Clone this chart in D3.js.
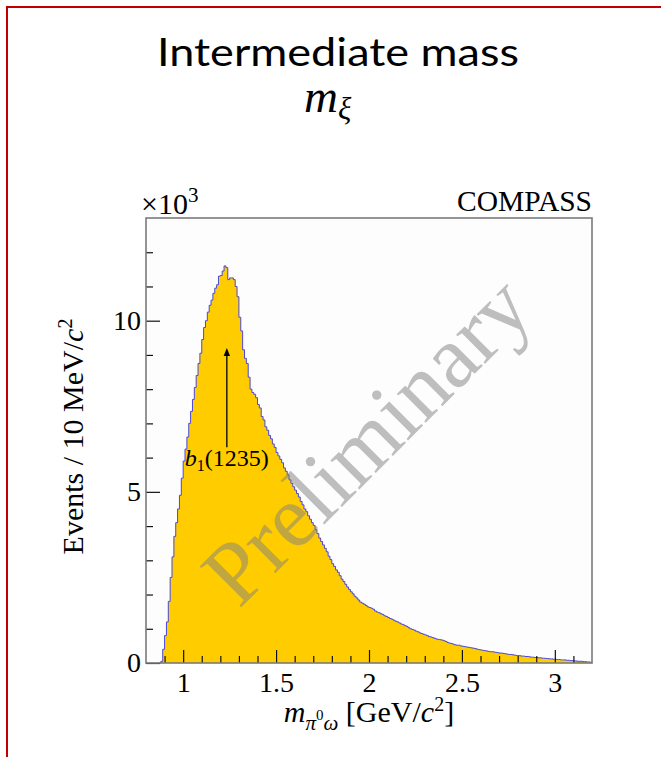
<!DOCTYPE html>
<html>
<head>
<meta charset="utf-8">
<script src="https://cdn.jsdelivr.net/npm/d3@7"></script>
<style>
  html, body { margin: 0; padding: 0; background: #ffffff; }
  svg { display: block; }
  .serif { font-family: "Liberation Serif", "Times New Roman", serif; }
</style>
</head>
<body>
<svg id="chart" width="661" height="757"></svg>
<script>
// pi0-omega invariant mass spectrum, 10 MeV/c^2 bins, counts in units of 10^3
const binStart = 0.87;
const binWidth = 0.01;
const counts = [
  0.00, 0.05, 0.40, 0.80, 1.20, 1.80, 2.50, 3.10, 3.70, 4.10,   // 0.87 - 0.96
  4.50, 4.90, 5.40, 5.90, 6.25, 6.60, 7.00, 7.35, 7.70, 8.05,   // 0.97 - 1.06
  8.40, 8.75, 9.05, 9.45, 9.80, 10.00, 10.25, 10.45, 10.60, 10.80, // 1.07 - 1.16
  10.95, 11.05, 11.30, 11.32, 11.45, 11.60, 11.55, 11.20, 11.25, 11.25, // 1.17 - 1.26
  11.20, 11.00, 10.70, 10.10, 9.70, 9.15, 8.90, 8.75, 8.35, 8.00, // 1.27 - 1.36
  7.90, 7.85, 7.75, 7.55, 7.45, 7.20, 7.10, 6.90, 6.80, 6.65,   // 1.37 - 1.46
  6.55, 6.40, 6.30, 6.15, 6.05, 5.95, 5.85, 5.70, 5.60, 5.50,   // 1.47 - 1.56
  5.35, 5.25, 5.15, 5.05, 4.95, 4.85, 4.72, 4.62, 4.50, 4.42,   // 1.57 - 1.66
  4.30, 4.20, 4.10, 4.02, 3.90, 3.78, 3.65, 3.55, 3.45, 3.35,   // 1.67 - 1.76
  3.25, 3.12, 3.02, 2.90, 2.82, 2.72, 2.65, 2.55, 2.45, 2.38,   // 1.77 - 1.86
  2.30, 2.22, 2.15, 2.08, 2.02, 1.95, 1.90, 1.84, 1.78, 1.75,   // 1.87 - 1.96
  1.72, 1.68, 1.64, 1.62, 1.60, 1.57, 1.52, 1.49, 1.47, 1.44,   // 1.97 - 2.06
  1.42, 1.38, 1.36, 1.33, 1.30, 1.28, 1.25, 1.22, 1.20, 1.17,   // 2.07 - 2.16
  1.14, 1.12, 1.09, 1.07, 1.03, 1.00, 0.98, 0.96, 0.93, 0.91,   // 2.17 - 2.26
  0.88, 0.86, 0.84, 0.82, 0.80, 0.77, 0.76, 0.74, 0.72, 0.70,   // 2.27 - 2.36
  0.69, 0.68, 0.67, 0.65, 0.63, 0.60, 0.58, 0.57, 0.55, 0.53,   // 2.37 - 2.46
  0.52, 0.52, 0.50, 0.49, 0.48, 0.47, 0.46, 0.45, 0.44, 0.43,   // 2.47 - 2.56
  0.42, 0.40, 0.39, 0.38, 0.37, 0.36, 0.35, 0.34, 0.33, 0.33,   // 2.57 - 2.66
  0.32, 0.31, 0.30, 0.29, 0.29, 0.28, 0.27, 0.26, 0.25, 0.25,   // 2.67 - 2.76
  0.24, 0.23, 0.22, 0.22, 0.21, 0.20, 0.20, 0.19, 0.19, 0.18,   // 2.77 - 2.86
  0.17, 0.17, 0.16, 0.16, 0.15, 0.15, 0.14, 0.14, 0.13, 0.13,   // 2.87 - 2.96
  0.12, 0.12, 0.11, 0.11, 0.10, 0.10, 0.09, 0.09, 0.09, 0.08,   // 2.97 - 3.06
  0.08, 0.07, 0.07, 0.06, 0.06, 0.05, 0.05, 0.05, 0.04, 0.04,   // 3.07 - 3.16
  0.03, 0.03, 0.02                                              // 3.17 - 3.19
];

// axis ranges and ticks
const xDomain = [0.8, 3.2];
const yDomain = [0, 13];
const xMajorTicks = [1, 1.5, 2, 2.5, 3];
const xMinorTicks = [0.9, 1.1, 1.2, 1.3, 1.4, 1.6, 1.7, 1.8, 1.9, 2.1, 2.2, 2.3, 2.4, 2.6, 2.7, 2.8, 2.9, 3.1];
const yMajorTicks = [0, 5, 10];
const yMinorTicks = [1, 2, 3, 4, 6, 7, 8, 9, 11, 12];

// annotation: b1(1235) marker (mass in GeV/c^2, arrow span in 10^3 events)
const b1Mass = 1.235;
const b1ArrowFrom = 6.3;
const b1ArrowTo = 9.2;
const b1LabelAt = 5.75;

const svg = d3.select("#chart");
const W = 661, H = 757;
const plot = { left: 146, right: 592, top: 218, bottom: 663 };

// slide frame
svg.append("rect").attr("x", 7).attr("y", 7).attr("width", W + 40).attr("height", H + 40)
  .attr("fill", "none").attr("stroke", "#c00000").attr("stroke-width", 2);

// slide title
svg.append("text").attr("x", 338).attr("y", 66).attr("text-anchor", "middle")
  .attr("font-family", "Lato, 'Open Sans', sans-serif").attr("font-size", 39).attr("font-weight", 400)
  .attr("textLength", 362).attr("lengthAdjust", "spacingAndGlyphs")
  .attr("fill", "#000").text("Intermediate mass");

const mt = svg.append("text").attr("x", 304).attr("y", 112)
  .attr("class", "serif").attr("font-style", "italic").attr("fill", "#000");
mt.append("tspan").attr("font-size", 47).text("m");
mt.append("tspan").attr("font-size", 31).attr("dy", 7).text("ξ");

const x = d3.scaleLinear().domain(xDomain).range([plot.left, plot.right]);
const y = d3.scaleLinear().domain(yDomain).range([plot.bottom, plot.top]);

// plot background
svg.append("rect").attr("x", plot.left).attr("y", plot.top)
  .attr("width", plot.right - plot.left).attr("height", plot.bottom - plot.top)
  .attr("fill", "#fdfdfd");

// histogram step points
const corners = [];
counts.forEach((c, i) => {
  const lo = binStart + i * binWidth;
  if (i === 0) corners.push([lo, 0]);
  corners.push([lo, c]);
  corners.push([lo + binWidth, c]);
});
corners.push([binStart + counts.length * binWidth, 0]);

const stepLine = d3.line().x(d => x(d[0])).y(d => y(d[1]));

svg.append("path").attr("d", stepLine(corners) + "Z")
  .attr("fill", "#ffcc00").attr("stroke", "none");
svg.append("path").attr("d", stepLine(corners))
  .attr("fill", "none").attr("stroke", "#4848d8").attr("stroke-width", 1);

// watermark
const wmX = x(2.1), wmY = y(5.9);
svg.append("text").attr("class", "serif")
  .attr("transform", `translate(${wmX},${wmY}) rotate(-45)`)
  .attr("text-anchor", "middle").attr("font-size", 89)
  .attr("fill", "#808080").attr("fill-opacity", 0.5).text("Preliminary");

// b1 arrow
const ax = x(b1Mass);
svg.append("line").attr("x1", ax).attr("x2", ax)
  .attr("y1", y(b1ArrowFrom)).attr("y2", y(b1ArrowTo) + 7)
  .attr("stroke", "#000").attr("stroke-width", 1.3);
svg.append("path")
  .attr("d", `M${ax},${y(b1ArrowTo)} L${ax - 3.2},${y(b1ArrowTo) + 8} L${ax + 3.2},${y(b1ArrowTo) + 8} Z`)
  .attr("fill", "#000");
const bl = svg.append("text").attr("class", "serif").attr("x", ax).attr("y", y(b1LabelAt))
  .attr("text-anchor", "middle").attr("font-size", 24).attr("fill", "#000");
bl.append("tspan").attr("font-style", "italic").text("b");
bl.append("tspan").attr("font-size", 16).attr("dy", 5).text("1");
bl.append("tspan").attr("dy", -5).text("(1235)");

// axes: ticks point inward
const tickColor = "#111";
function drawTicks(g) {
  g.select(".domain").remove();
  g.selectAll(".tick line").attr("stroke", tickColor).attr("stroke-width", 1.2);
  g.selectAll(".tick text").attr("fill", "#000")
    .attr("font-family", "'Liberation Serif', serif").attr("font-size", 28);
}
svg.append("g").attr("transform", `translate(0,${plot.bottom})`)
  .call(d3.axisBottom(x).tickValues(xMinorTicks).tickSize(-7).tickFormat(""))
  .call(drawTicks);
svg.append("g").attr("transform", `translate(0,${plot.bottom})`)
  .call(d3.axisBottom(x).tickValues(xMajorTicks).tickSize(-13).tickPadding(9).tickFormat(d3.format("")))
  .call(drawTicks);
svg.append("g").attr("transform", `translate(${plot.left},0)`)
  .call(d3.axisLeft(y).tickValues(yMinorTicks).tickSize(-7).tickFormat(""))
  .call(drawTicks);
svg.append("g").attr("transform", `translate(${plot.left},0)`)
  .call(d3.axisLeft(y).tickValues(yMajorTicks).tickSize(-14).tickPadding(6).tickFormat(d3.format("")))
  .call(drawTicks)
  .selectAll(".tick text").attr("x", -5);

// frame
svg.append("rect").attr("x", plot.left).attr("y", plot.top)
  .attr("width", plot.right - plot.left).attr("height", plot.bottom - plot.top)
  .attr("fill", "none").attr("stroke", "#7a7a7a").attr("stroke-width", 1.6);

// exponent label
const ex = svg.append("text").attr("class", "serif").attr("x", plot.left - 5).attr("y", 214)
  .attr("font-size", 30).attr("fill", "#000");
ex.append("tspan").text("×10");
ex.append("tspan").attr("font-size", 21).attr("dy", -12).text("3");

// experiment tag
svg.append("text").attr("class", "serif").attr("x", plot.right).attr("y", 211)
  .attr("text-anchor", "end").attr("font-size", 29.5).attr("fill", "#000").text("COMPASS");

// axis titles
const xt = svg.append("text").attr("class", "serif").attr("x", 369).attr("y", 722)
  .attr("text-anchor", "middle").attr("font-size", 30).attr("fill", "#000");
xt.append("tspan").attr("font-style", "italic").text("m");
xt.append("tspan").attr("font-style", "italic").attr("font-size", 21).attr("dy", 8).text("π");
xt.append("tspan").attr("font-size", 15).attr("dy", -10).text("0");
xt.append("tspan").attr("font-style", "italic").attr("font-size", 21).attr("dy", 10).text("ω");
xt.append("tspan").attr("dy", -8).text(" [GeV/");
xt.append("tspan").attr("font-style", "italic").text("c");
xt.append("tspan").attr("font-size", 20).attr("dy", -11).text("2");
xt.append("tspan").attr("dy", 11).text("]");

const yt = svg.append("text").attr("class", "serif")
  .attr("transform", `translate(83,${(plot.top + plot.bottom) / 2 - 4}) rotate(-90)`)
  .attr("text-anchor", "middle").attr("font-size", 30).attr("fill", "#000");
yt.append("tspan").text("Events / 10 MeV/");
yt.append("tspan").attr("font-style", "italic").text("c");
yt.append("tspan").attr("font-size", 20).attr("dy", -11).text("2");
</script>
</body>
</html>
